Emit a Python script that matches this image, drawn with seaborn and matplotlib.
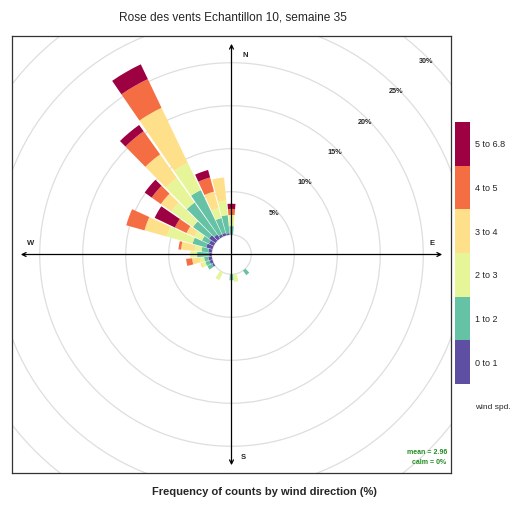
import numpy as np
import matplotlib
matplotlib.use("Agg")
import matplotlib.pyplot as plt
from matplotlib.patches import Wedge, Circle
import seaborn as sns

sns.set_style("white")
plt.rcParams["font.family"] = ["Liberation Sans", "DejaVu Sans"]

# Wind direction bins (degrees, clockwise from north)
directions = [140, 170, 180, 210, 240, 250, 260, 270, 280, 290, 300, 310, 320, 330, 340, 350, 360]

# Frequency (%) of each wind-speed class per direction
spd_0_1 = [0, 0, 0, 0, 0.2, 0.35, 0.4, 0.3, 0.4, 0.75, 0.6, 0.9, 0.55, 0.3, 0.3, 0.2, 0]
spd_1_2 = [0.65, 0, 0.7, 0, 0.6, 0.5, 0.5, 1.4, 0.8, 1.65, 0.9, 2.3, 4.55, 5.7, 1.8, 2.1, 1.0]
spd_2_3 = [0, 0.9, 0, 1.0, 0, 0.4, 0.5, 0.8, 0.8, 3.1, 1.0, 3.1, 3.5, 3.5, 1.2, 1.7, 1.3]
spd_3_4 = [0, 0, 0, 0, 0, 0.2, 0.9, 0, 1.6, 2.7, 1.0, 1.5, 3.4, 7.1, 2.0, 2.7, 0]
spd_4_5 = [0, 0, 0, 0, 0, 0, 0.7, 0, 0.3, 2.2, 1.5, 1.3, 3.3, 3.7, 1.7, 0, 0.7]
spd_5_68 = [0, 0, 0, 0, 0, 0, 0, 0, 0, 0, 2.6, 1.0, 0.9, 1.9, 0.9, 0, 0.6]

speed_labels = ["0 to 1", "1 to 2", "2 to 3", "3 to 4", "4 to 5", "5 to 6.8"]
grid_levels = [5, 10, 15, 20, 25, 30]
mean_speed = 2.96
calm_pct = 0

colors = sns.color_palette(["#5E4FA2", "#66C2A5", "#E6F598", "#FEE08B", "#F46D43", "#9E0142"])

W, H = 527, 506
fig = plt.figure(figsize=(W / 100, H / 100), dpi=100)

# main panel (pixel box 12..451 x 37..474)
px_l, px_r, px_t, px_b = 12, 451, 37, 474
ax = fig.add_axes([px_l / W, 1 - px_b / H, (px_r - px_l) / W, (px_b - px_t) / H])
scale = 8.6  # pixels per percent
half_w = (px_r - px_l) / 2 / scale
half_h = (px_b - px_t) / 2 / scale
ax.set_xlim(-half_w, half_w)
ax.set_ylim(-half_h, half_h)
ax.set_xticks([])
ax.set_yticks([])
for s in ax.spines.values():
    s.set_color("#333333")
    s.set_linewidth(0.9)

offset = 2.3
grid_col = "#DEDEDE"

# grid circles
ax.add_patch(Circle((0, 0), offset, fill=False, ec=grid_col, lw=0.9, zorder=1))
for g in grid_levels:
    ax.add_patch(Circle((0, 0), offset + g, fill=False, ec=grid_col, lw=0.9, zorder=1))

# stacked wedges
bin_width = 9.0
series = [spd_0_1, spd_1_2, spd_2_3, spd_3_4, spd_4_5, spd_5_68]
for i, d in enumerate(directions):
    r0 = offset
    th1 = 90 - d - bin_width / 2
    th2 = 90 - d + bin_width / 2
    for k, vals in enumerate(series):
        v = vals[i]
        if v <= 0:
            continue
        ax.add_patch(Wedge((0, 0), r0 + v, th1, th2, width=v,
                           fc=colors[k], ec="none", lw=0, zorder=2))
        r0 += v

# compass axes with arrows
R = 24.5
arrow_kw = dict(arrowstyle="<->", lw=0.9, color="black", mutation_scale=7,
                shrinkA=0, shrinkB=0)
ax.annotate("", xy=(0, R), xytext=(0, -R), arrowprops=arrow_kw, zorder=3)
ax.annotate("", xy=(R, 0), xytext=(-R, 0), arrowprops=arrow_kw, zorder=3)
lab_kw = dict(fontsize=5.5, fontweight="bold", ha="center", va="center", zorder=4)
ax.text(1.6, 23.3, "N", **lab_kw)
ax.text(23.3, 1.45, "E", **lab_kw)
ax.text(1.4, -23.5, "S", **lab_kw)
ax.text(-23.4, 1.45, "W", **lab_kw)

# percentage labels along the NE diagonal
c45 = np.cos(np.pi / 4)
for g in grid_levels:
    rr = offset + g
    ax.text(rr * c45 - 0.2, rr * c45 - 0.25, f"{g}%", fontsize=5.2, fontweight="bold",
            ha="center", va="center", zorder=4)

# summary statistics
ax.text(half_w - 0.45, -half_h + 2.55, f"mean = {mean_speed:.2f}", fontsize=5,
        fontweight="bold", color="#228B22", ha="right", va="center")
ax.text(half_w - 0.6, -half_h + 1.3, f"calm = {calm_pct}%", fontsize=5,
        fontweight="bold", color="#228B22", ha="right", va="center")

# wind speed key
kx0, kx1, ky0, ky1 = 455, 470, 123, 385
kax = fig.add_axes([kx0 / W, 1 - ky1 / H, (kx1 - kx0) / W, (ky1 - ky0) / H])
kax.bar([0] * len(speed_labels), [1] * len(speed_labels),
        bottom=np.arange(len(speed_labels)), width=1, color=colors, edgecolor="none")
kax.set_xlim(-0.5, 0.5)
kax.set_ylim(0, len(speed_labels))
kax.axis("off")
seg_h = (ky1 - ky0) / len(speed_labels)
for k, lab in enumerate(speed_labels):
    yc = ky1 - seg_h * (k + 0.5)
    fig.text(475 / W, 1 - yc / H, lab, fontsize=6.5, ha="left", va="center")
fig.text(475 / W, 1 - 408 / H, "wind spd.", fontsize=6, ha="left", va="center")

fig.text(233 / W, 1 - 17 / H, "Rose des vents Echantillon 10, semaine 35",
         fontsize=8.6, ha="center", va="center")
fig.text(264 / W, 1 - 492 / H, "Frequency of counts by wind direction (%)",
         fontsize=8, fontweight="bold", ha="center", va="center")

fig.savefig("out.png", dpi=100)
